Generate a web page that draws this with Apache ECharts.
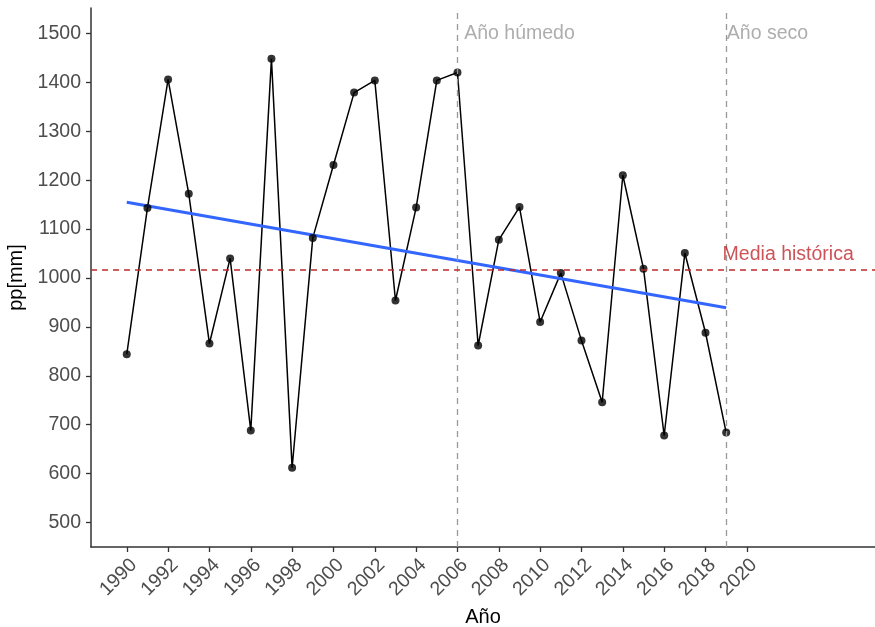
<!DOCTYPE html>
<html>
<head>
<meta charset="utf-8">
<script src="https://cdn.jsdelivr.net/npm/echarts@6/dist/echarts.min.js"></script>
<style>
html,body{margin:0;padding:0;background:#fff;}
#c{width:875px;height:627px;}
</style>
</head>
<body>
<div id="c"></div>
<script>
const years = [1990,1991,1992,1993,1994,1995,1996,1997,1998,1999,2000,2001,2002,2003,2004,2005,2006,2007,2008,2009,2010,2011,2012,2013,2014,2015,2016,2017,2018,2019];
const pp = [844,1143,1406,1172,866,1040,688,1448,612,1082,1231,1379,1404,954,1144,1404,1420,862,1078,1145,910,1010,872,746,1210,1019,678,1051,888,684];
const trendYears = [1990, 2019];
const trendValues = [1155, 939];
const mediaHistorica = 1016;
const markYears = [2006, 2019];
const xTicks = [1990,1992,1994,1996,1998,2000,2002,2004,2006,2008,2010,2012,2014,2016,2018,2020];
const yTicks = [500,600,700,800,900,1000,1100,1200,1300,1400,1500];
const annotGrey = [{text:'Año húmedo', x:2009, y:1500},{text:'Año seco', x:2021, y:1500}];
const annotRed = [{text:'Media histórica', x:2022, y:1048}];

const FONT = '"Liberation Sans", Arial, sans-serif';
const chart = echarts.init(document.getElementById('c'));
const points = years.map((y,i)=>[y,pp[i]]);

chart.setOption({
  animation:false,
  textStyle:{fontFamily:FONT},
  grid:{left:91,right:0,top:8,bottom:80,containLabel:false,outerBoundsMode:'none'},
  xAxis:{
    type:'value', min:1988.27, max:2026.2,
    name:'Año', nameLocation:'middle', nameGap:60,
    nameTextStyle:{fontSize:20,color:'#000',fontFamily:FONT},
    axisLine:{show:true,lineStyle:{color:'#333',width:1.5}},
    axisTick:{show:true,customValues:xTicks,length:5,lineStyle:{color:'#333',width:1.3}},
    axisLabel:{customValues:xTicks,rotate:45,fontSize:19.5,color:'#4d4d4d',margin:8,verticalAlign:'top',fontFamily:FONT,formatter:v=>String(v)},
    splitLine:{show:false}
  },
  yAxis:{
    type:'value', min:450, max:1552,
    name:'pp[mm]', nameLocation:'middle', nameGap:54,
    nameTextStyle:{fontSize:20,color:'#000',fontFamily:FONT},
    axisLine:{show:true,lineStyle:{color:'#333',width:1.5}},
    axisTick:{show:true,customValues:yTicks,length:5,lineStyle:{color:'#333',width:1.3}},
    axisLabel:{customValues:yTicks,fontSize:19.5,color:'#4d4d4d',margin:10,fontFamily:FONT,formatter:v=>String(v)},
    splitLine:{show:false}
  },
  series:[
    {
      type:'line', data:[], z:1, silent:true,
      markLine:{
        silent:true, symbol:['none','none'], label:{show:false},
        data:[
          ...markYears.map(v=>({xAxis:v, lineStyle:{color:'#999',width:1.3,type:[6,5]}})),
          {yAxis:mediaHistorica, lineStyle:{color:'#C0282D',width:1.6,type:[6,5]}}
        ]
      }
    },
    {
      type:'line', data:points, z:2, symbol:'none',
      lineStyle:{color:'#000',width:1.5}
    },
    {
      type:'line', data:trendYears.map((y,i)=>[y,trendValues[i]]), z:3, symbol:'none',
      lineStyle:{color:'#3366FF',width:3}
    },
    {
      type:'scatter', data:points, z:4, symbol:'circle', symbolSize:8,
      itemStyle:{color:'#000'}
    },
    {
      type:'scatter', z:5, symbolSize:1, itemStyle:{color:'rgba(0,0,0,0)'}, silent:true,
      data:annotGrey.map(a=>({value:[a.x,a.y], name:a.text})),
      label:{show:true,position:'inside',formatter:p=>p.name,color:'#999',fontSize:19.5,fontFamily:FONT}
    },
    {
      type:'scatter', z:5, symbolSize:1, itemStyle:{color:'rgba(0,0,0,0)'}, silent:true,
      data:annotRed.map(a=>({value:[a.x,a.y], name:a.text})),
      label:{show:true,position:'inside',formatter:p=>p.name,color:'#C0282D',fontSize:19.5,fontFamily:FONT}
    }
  ]
});
</script>
</body>
</html>
